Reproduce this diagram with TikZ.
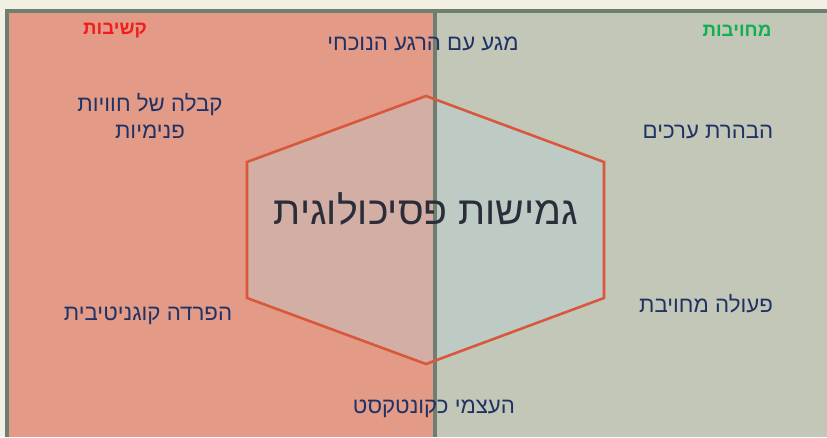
\documentclass[tikz,border=0pt]{standalone}
\usepackage{fontspec}
\newfontfamily\hebfont[Script=Hebrew]{Liberation Sans}
\TeXXeTstate=1
\definecolor{paper}{HTML}{F2F0E2}
\definecolor{leftfill}{HTML}{E39A86}
\definecolor{rightfill}{HTML}{C2C7B8}
\definecolor{framecol}{HTML}{6E7F72}
\definecolor{hexline}{HTML}{D9573A}
\definecolor{hexfill}{HTML}{B8D4DC}
\definecolor{navy}{HTML}{1F3265}
\definecolor{titlecol}{HTML}{2B2E3A}
\definecolor{headred}{HTML}{F21C1C}
\definecolor{headgreen}{HTML}{10B050}
\tikzset{
  label/.style={font=\hebfont\fontsize{19}{23}\selectfont, text=navy, align=center, inner sep=0pt},
  head/.style={font=\hebfont\bfseries\fontsize{16}{19}\selectfont, inner sep=0pt},
}
\begin{document}
\begin{tikzpicture}[x=0.03cm, y=-0.03cm]
    \useasboundingbox (0,0) rectangle (827,437);
    \fill[paper] (0,0) rectangle (827,437);

    \coordinate (TL) at (7,11);
    \coordinate (TM) at (435,11);
    \coordinate (BR) at (827,437);
    \coordinate (BM) at (435,437);

    % panels
    \fill[leftfill] (TL) rectangle (BM);
    \fill[rightfill] (TM) rectangle (BR);

    % hexagon
    \coordinate (HT) at (426,96);
    \coordinate (HUR) at (604,162);
    \coordinate (HLR) at (604,298);
    \coordinate (HB) at (426,364);
    \coordinate (HLL) at (247,298);
    \coordinate (HUL) at (247,162);
    \fill[hexfill, opacity=0.35] (HT) -- (HUR) -- (HLR) -- (HB) -- (HLL) -- (HUL) -- cycle;

    % frame
    \draw[framecol, line width=3pt] (7,437) -- (TL) -- (827,11);
    \draw[framecol, line width=3pt] (TM) -- (BM);

    \draw[hexline, line width=2.2pt, line join=miter] (HT) -- (HUR) -- (HLR) -- (HB) -- (HLL) -- (HUL) -- cycle;

    \node[font=\hebfont\fontsize{33.5}{40}\selectfont, text=titlecol, inner sep=0pt] (title) at (426,209) {\beginR גמישות פסיכולוגית\endR};

    \node[head, text=headred] (hard) at (115,31) {\beginR קשיבות\endR};
    \node[head, text=headgreen] (commit) at (737,31) {\beginR מחויבות\endR};

    \node[label] (present) at (423,44) {\beginR מגע עם הרגע הנוכחי\endR};
    \node[label] (accept) at (150,116) {\beginR קבלה של חוויות\endR\\\beginR פנימיות\endR};
    \node[label] (values) at (708,132) {\beginR הבהרת ערכים\endR};
    \node[label] (defusion) at (148,316) {\beginR הפרדה קוגניטיבית\endR};
    \node[label] (action) at (706,304) {\beginR פעולה מחויבת\endR};
    \node[label] (self) at (434,409) {\beginR העצמי כקונטקסט\endR};
\end{tikzpicture}
\end{document}
